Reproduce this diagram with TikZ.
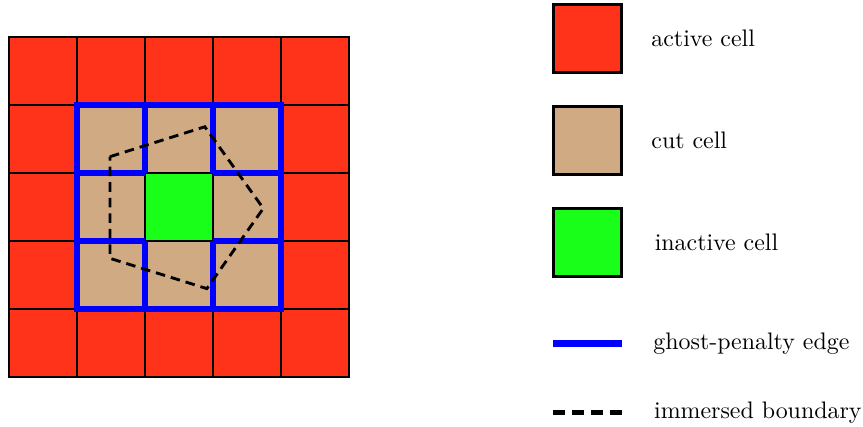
\documentclass[tikz,border=0pt]{standalone}
\usepackage{xcolor}
\usepackage{tikz}
\usetikzlibrary{positioning, calc}
\definecolor{activered}{RGB}{255,51,26}
\definecolor{cuttan}{RGB}{207,170,130}
\definecolor{inactgreen}{RGB}{26,255,26}

\begin{document}
\begin{tikzpicture}[
    cell/.style={draw=black, line width=0.8pt},
    legbox/.style={rectangle, draw=black, line width=1pt, minimum size=1cm, inner sep=0pt, outer sep=0pt},
    gp/.style={blue, line width=2.2pt},
    bnd/.style={black, line width=1.2pt, dash pattern=on 4pt off 2.5pt},
    lbl/.style={inner sep=0pt, font=\normalsize},
  ]
    \useasboundingbox (-0.132,-0.735) rectangle (12.559,5.544);
    % mesh
    \foreach \i in {0,...,4}
      \foreach \j in {0,...,4}
        \filldraw[cell, fill=activered] (\i,\j) rectangle ++(1,1);
    \foreach \i in {1,2,3}
      \foreach \j in {1,2,3}
        \filldraw[cell, fill=cuttan] (\i,\j) rectangle ++(1,1);
    \filldraw[cell, fill=inactgreen] (2,2) rectangle (3,3);
    % ghost penalty faces
    \draw[gp] (1,1) rectangle (4,4);
    \foreach \x in {2,3} {
      \draw[gp] (\x,1) -- (\x,2);
      \draw[gp] (\x,3) -- (\x,4);
      \draw[gp] (1,\x) -- (2,\x);
      \draw[gp] (3,\x) -- (4,\x);
    }
    % boundary
    \coordinate (b1) at (1.485,3.24);
    \coordinate (b2) at (2.88,3.68);
    \coordinate (b3) at (3.74,2.48);
    \coordinate (b4) at (2.91,1.30);
    \coordinate (b5) at (1.485,1.745);
    \draw[bnd] (b1) -- (b2) -- (b3) -- (b4) -- (b5) -- cycle;

    % legend
    \node[legbox, fill=activered] (actbox) at (8.51,4.98) {};
    \node[legbox, fill=cuttan, below=0.5cm of actbox] (cutbox) {};
    \node[legbox, fill=inactgreen, below=0.5cm of cutbox] (inbox) {};
    \node[lbl, right=0.43cm of actbox] (actlbl) {active cell};
    \node[lbl, right=0.43cm of cutbox] (cutlbl) {cut cell};
    \node[lbl, right=0.48cm of inbox] (inlbl) {inactive cell};

    \coordinate (gpa) at (8.0,0.49);
    \coordinate (gpb) at (9.02,0.49);
    \draw[gp, line width=2.9pt] (gpa) -- (gpb);
    \node[lbl, right=0.45cm of gpb] (gplbl) {ghost-penalty edge};

    \coordinate (bnda) at (8.0,-0.52);
    \coordinate (bndb) at (9.02,-0.52);
    \draw[bnd, line width=2pt, dash pattern=on 5pt off 3pt] (bnda) -- (bndb);
    \node[lbl, right=0.46cm of bndb] (bndlbl) {immersed boundary};
  \end{tikzpicture}
\end{document}
